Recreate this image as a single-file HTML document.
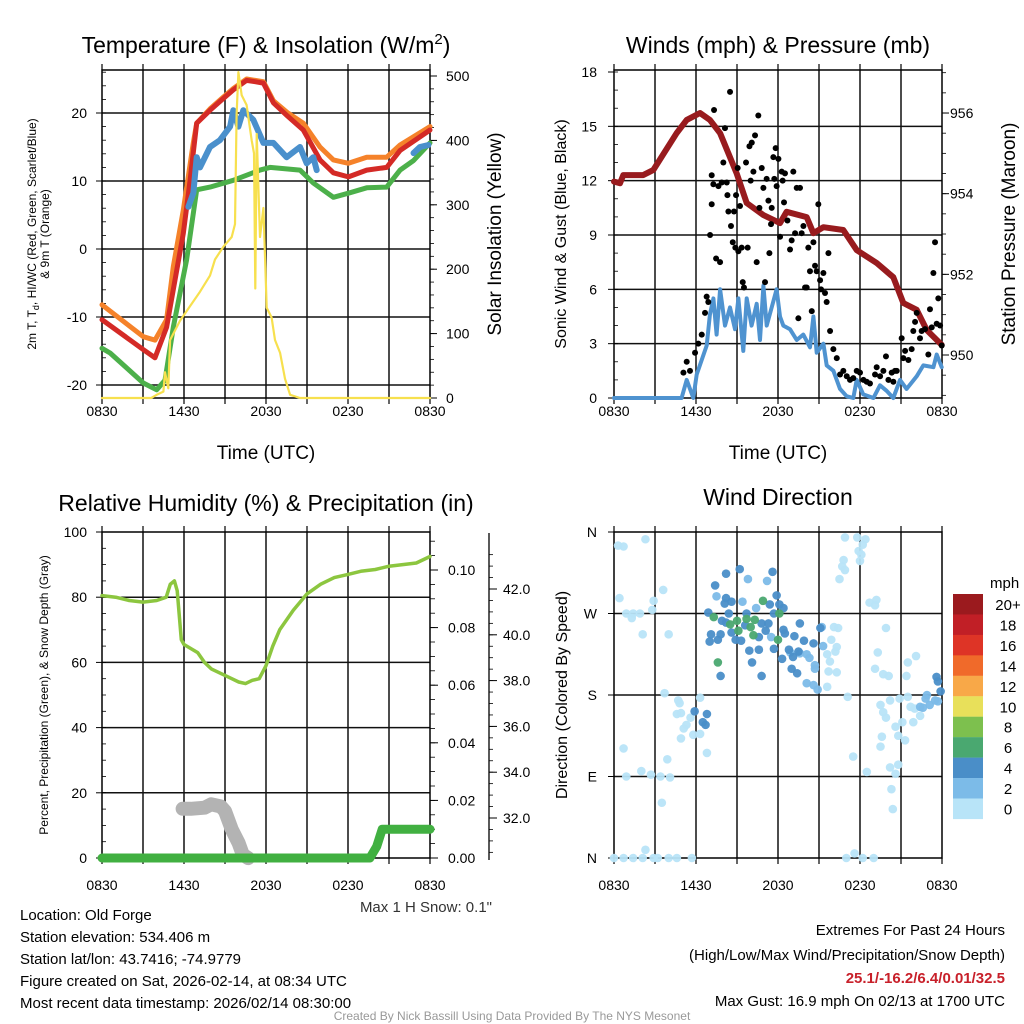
<!DOCTYPE html>
<html><head><meta charset="utf-8"><style>
html,body{margin:0;padding:0;background:#fff;}
svg{display:block;font-family:"Liberation Sans",Arial,sans-serif;}
</style></head><body>
<svg id="fig" width="1024" height="1024" viewBox="0 0 1024 1024" xmlns="http://www.w3.org/2000/svg">
<rect width="1024" height="1024" fill="#fff"/>
<g id="p1"></g>
<g id="p2"></g>
<g id="p3"></g>
<g id="p4"></g>
<g id="txt">
<text x="266" y="53" font-size="23" text-anchor="middle">Temperature (F) &amp; Insolation (W/m<tspan dy="-9" font-size="15">2</tspan><tspan dy="9">)</tspan></text>
<text x="778" y="53" font-size="23" text-anchor="middle">Winds (mph) &amp; Pressure (mb)</text>
<text x="266" y="511" font-size="23" text-anchor="middle">Relative Humidity (%) &amp; Precipitation (in)</text>
<text x="778" y="505" font-size="23" text-anchor="middle">Wind Direction</text>
<text x="266" y="459" font-size="19" text-anchor="middle">Time (UTC)</text>
<text x="778" y="459" font-size="19" text-anchor="middle">Time (UTC)</text>
<text transform="translate(36,234) rotate(-90)" font-size="12" text-anchor="middle">2m T, T<tspan dy="3" font-size="9">d</tspan><tspan dy="-3">, HI/WC (Red, Green, Scarlet/Blue)</tspan></text>
<text transform="translate(49,234) rotate(-90)" font-size="12" text-anchor="middle">&amp; 9m T (Orange)</text>
<text transform="translate(501,234) rotate(-90)" font-size="19" text-anchor="middle">Solar Insolation (Yellow)</text>
<text transform="translate(566,234) rotate(-90)" font-size="16" text-anchor="middle">Sonic Wind &amp; Gust (Blue, Black)</text>
<text transform="translate(1015,234) rotate(-90)" font-size="19" text-anchor="middle">Station Pressure (Maroon)</text>
<text transform="translate(48,695) rotate(-90)" font-size="12" text-anchor="middle">Percent, Precipitation (Green), &amp; Snow Depth (Gray)</text>
<text transform="translate(567,695) rotate(-90)" font-size="16" text-anchor="middle">Direction (Colored By Speed)</text>
<text x="492" y="912" font-size="15" fill="#333" text-anchor="end">Max 1 H Snow: 0.1"</text>
<g font-size="15">
<text x="20" y="920">Location: Old Forge</text>
<text x="20" y="942">Station elevation: 534.406 m</text>
<text x="20" y="964">Station lat/lon: 43.7416; -74.9779</text>
<text x="20" y="986">Figure created on Sat, 2026-02-14, at 08:34 UTC</text>
<text x="20" y="1008">Most recent data timestamp: 2026/02/14 08:30:00</text>
</g>
<g font-size="15" text-anchor="end">
<text x="1005" y="935">Extremes For Past 24 Hours</text>
<text x="1005" y="960">(High/Low/Max Wind/Precipitation/Snow Depth)</text>
<text x="1005" y="983" fill="#c8202a" font-weight="bold">25.1/-16.2/6.4/0.01/32.5</text>
<text x="1005" y="1006">Max Gust: 16.9 mph On 02/13 at 1700 UTC</text>
</g>
<text x="512" y="1020" font-size="12" fill="#999" text-anchor="middle">Created By Nick Bassill Using Data Provided By The NYS Mesonet</text>
</g>
</svg>
<script>
// ---------- data ----------
var timeTickLabels = ["0830","1430","2030","0230","0830"];
var tempTicks = [20,10,0,-10,-20];
var insolTicks = [500,400,300,200,100,0];
var redHours = [0,3.02,3.88,4.73,5.95,6.44,6.93,7.9,8.8,9.61,10.58,11.2,11.81,12.54,13.6,14.73,15.95,16.93,18.03,19.37,20.83,21.81,24];
var redVals = [-10.4,-14.8,-16,-11.5,2.3,10,18.5,20.4,22,23.4,24.8,24.6,24.4,21.5,19.5,17.5,13.1,11.2,10.6,11.6,12,14.5,17.5];
var orangeHours = [0,3.02,3.88,4.73,5.22,5.95,6.68,6.93,7.9,8.8,9.61,10.58,11.2,11.81,12.54,13.6,14.73,15.95,16.93,18.03,19.37,20.83,21.81,24];
var orangeVals = [-8.2,-12.9,-13.4,-10.4,-2.6,5.7,15.6,18.5,20.6,22.2,23.6,25,24.8,24.6,21.8,20,18.5,15,13.1,12.6,13.5,13.5,15.3,18];
var greenHours = [0,0.59,3.02,4.0,4.61,5.22,6.19,6.93,7.9,9.61,11.56,12.29,14.49,15.46,16.93,18.03,19.37,20.83,21.81,22.79,24];
var greenVals = [-14.6,-15.3,-19.7,-20.7,-19.3,-11.5,-1.6,8.7,9.1,10.1,11.6,12,11.6,9.7,7.6,8.2,9,9.1,11.6,13,15.6];
var blueHours = [6.32,6.68,6.93,7.17,7.9,8.63,9.37,9.61,9.98,10.34,11.07,11.81,12.54,13.51,14.49,14.98,15.46,15.71];
var blueVals = [6.2,8.2,13.5,12,15,16,18,20.4,18,20.4,19,15.6,15.6,13.5,15,12.6,13.5,11.6];
var blue2Hours = [22.79,23.27,23.88];
var blue2Vals = [14.1,15,15.3];
var insolHours = [0,3.6,4.0,4.49,4.61,4.85,4.98,5.71,6.19,7.17,7.9,8.27,8.88,9.49,9.73,9.85,9.98,10.22,10.58,10.95,11.12,11.22,11.32,11.56,11.81,12.05,12.41,12.66,13.03,13.39,13.76,14.49,24];
var insolVals = [0,0,5,10,40,15,90,120,135,165,190,215,235,250,270,440,506,470,455,400,380,170,410,250,295,140,125,90,70,30,5,0,0];

var windTicks = [0,3,6,9,12,15,18];
var presTicks = [950,952,954,956];
var presHours = [0,0.44,0.68,2.14,2.88,4.58,5.32,6.29,7.02,7.76,8.98,9.71,10.93,12.15,12.63,14.1,14.59,15.32,16.78,17.76,19.22,20.44,21.17,22.15,22.88,23.98];
var presVals = [954.3,954.26,954.46,954.46,954.59,955.5,955.83,956.0,955.83,955.5,954.5,953.77,953.47,953.27,953.55,953.42,953.02,953.17,953.1,952.6,952.28,951.93,951.29,951.12,950.62,950.25];
var windHours = [0,4.95,5.32,5.8,6.05,6.78,7.02,7.27,7.51,7.76,8.12,8.49,8.85,9.1,9.46,9.71,10.07,10.44,10.68,10.93,11.17,11.54,11.9,12.15,12.39,12.88,13.37,13.85,14.34,14.59,14.83,15.32,15.56,16.05,16.54,17.02,17.51,17.76,18.24,18.98,19.46,19.95,20.44,20.93,21.41,22.15,22.63,23.37,23.61,23.98];
var windVals = [0,0,1,0,1.3,2.9,4.6,5.5,3.5,6,4,5,3.8,5.5,2.6,5.5,4,5.2,3.2,6.2,4,5,6,4.5,4,3.8,3.2,3.5,2.8,4.5,2.5,3,1.8,1.5,0.5,0.1,0,1,0.2,0,0.7,0.4,0,1,0.5,1.2,1.8,1.7,2.4,1.7];
var gustHours = [5.08,5.32,5.56,5.93,6.17,6.42,6.66,6.78,6.9,7.03,7.15,7.15,7.27,7.32,7.47,7.64,7.76,7.88,8,8.12,8.25,8.3,8.37,8.49,8.56,8.69,8.78,8.88,8.93,9.05,9.1,9.22,9.34,9.42,9.51,9.66,9.78,9.91,10,10.08,10.2,10.32,10.44,10.56,10.64,10.81,10.93,11.05,11.17,11.3,11.37,11.49,11.54,11.66,11.73,11.83,11.9,12.03,12.15,12.27,12.34,12.44,12.51,12.69,12.88,13,13.12,13.25,13.37,13.49,13.61,13.73,13.86,13.98,14.1,14.22,14.34,14.47,14.59,14.71,14.83,14.95,15.08,15.15,15.32,15.44,15.56,15.69,15.81,16.05,16.3,16.54,16.78,17.03,17.27,17.51,17.76,18,18.25,18.49,18.73,19.1,19.22,19.47,19.71,19.9,20.08,20.32,20.44,20.56,20.69,21.05,21.17,21.3,21.54,21.78,21.9,22.03,22.15,22.39,22.51,22.76,23,23.12,23.25,23.37,23.49,23.61,23.73,23.86,23.98];
var gustVals = [1.4,2,1.5,2.5,3,3.5,4.7,5.6,5.3,9,10.7,12.3,11.8,15.9,7.7,11.7,7.5,11.9,13,14.9,11.9,11.2,10.3,16.9,9.5,8.6,10.3,8.3,11.2,12.7,8.1,10.6,8.3,6.4,6.1,13,8.3,13.9,12,14.1,12.5,14.5,7.5,15.6,10.5,12.7,11.6,6.4,12.1,10.9,8,9.6,10.5,13.3,12.1,13.8,11.7,13.2,8.9,12.5,12,10.8,12.4,9.8,8.2,8.7,12.5,9.1,11.6,4.4,11.6,9.1,9.5,6.1,6.1,8.3,7,4.8,8.6,7.3,7,10.7,6.5,6,6.9,5.8,5.3,8,3.7,2.7,2.2,1.3,1.5,1.2,1,1.1,1.5,1.4,1,0.9,0.8,1.3,1.7,1.2,1.5,2.3,1,1.4,0.9,1.5,1.5,3.3,2.2,2.6,2.1,2.7,3.7,4.2,4.7,3.3,3.7,3.8,2.4,4.9,3.9,6.9,8.6,4.1,5.5,4,2.9];

var rhTicks = [100,80,60,40,20,0];
var precipTicks = ["0.10","0.08","0.06","0.04","0.02","0.00"];
var snowTicks = ["42.0","40.0","38.0","36.0","34.0","32.0"];
var rhHours = [0,1,2,3,4,4.7,5,5.3,5.5,5.8,6,7,7.5,8,9,9.5,10,10.5,11,11.5,12,12.5,13,14,15,16,17,18,19,20,21,22,23,24];
var rhVals = [80.5,80,79,78.5,79,80,84,85,82,67,65.5,63,60,58,56,55,54,53.5,54.5,55,59,65,70,76,81,84,86,87,88,88.5,89.5,90,90.5,92.5];
var precipHours = [0,19.6,20.1,20.5,24];
var precipVals = [0,0,0.004,0.01,0.01];
var snowHours = [5.9,6.5,7.5,8,8.7,9,9.5,10,10.3,10.7];
var snowVals = [32.4,32.4,32.45,32.6,32.5,32.3,31.5,30.9,30.4,30.25];

var dirTickLabels = ["N","W","S","E","N"];
var speedLabels = ["20+","18","16","14","12","10","8","6","4","2","0"];
var speedColors = ["#9b1a1e","#c11f26","#de3426","#f06a2a","#f8a848","#e8e05a","#7dc04e","#4aa870","#4a8ec8","#7cbbe8","#b8e4f8"];
var dirHours = [0.3,0.7,2.3,0.4,3.6,2.9,2.8,0.9,1.4,1.9,1.3,2.1,4.0,3.7,4.7,4.8,6.3,4.6,4.9,5.6,5.3,5.1,6.3,5.8,4.9,6.8,3.9,0.7,2.0,0.9,2.7,3.4,4.1,3.5,2.3,0,0.7,1.4,2.1,2.9,3.2,4.0,4.6,5.7,16.9,17.8,18.4,18.2,17.9,18.1,18.0,16.8,16.7,16.9,16.5,18.7,19.2,19.1,19.9,16.1,16.4,15.9,16.3,15.6,16.2,15.8,15.7,16.3,15.6,17.1,19.3,19.1,19.7,20.1,21.5,22.1,21.4,19.5,19.7,19.9,20.2,20.9,21.5,21.7,22.0,22.4,21.9,21.1,20.6,20.8,21.3,19.6,19.5,17.5,18.5,20.2,20.8,20.6,20.3,20.4,17.0,17.6,18.2,19.0,
9.8,11.2,7.5,9.4,10.4,11.5,12.9,13.6,14.1,14.3,14.7,14.7,14.1,14.6,14.9,15.3,15.2,22.8,23.1,22.6,23.5,23.7,22.9,22.4,
8.2,9.2,11.6,7.4,11.9,8.2,8.1,8.6,11.4,12.1,12.4,11.7,6.9,8.4,9.7,7.9,8.2,9.6,10.8,11.3,11.1,7.1,7.8,8.6,7.0,7.6,8.9,9.3,10.6,12.4,12.5,13.6,13.2,13.9,14.6,15.1,9.9,10.6,11.7,12.8,13.1,13.5,12.3,13.0,10.1,13.4,10.8,7.8,5.9,6.8,6.5,6.7,23.6,23.7,23.9,
10.9,12.1,7.3,9.0,9.7,10.3,8.5,9.1,10.0,10.2,12.0,7.6];
var dirDegs = [345,344,352,287,296,284,274,270,270,270,265,247,247,182,174,171,177,159,160,155,147,143,137,136,132,116,109,121,96,90,92,90,89,61,9,0,0,0,0,0,0,0,0,0,354,354,352,346,339,335,328,329,322,318,308,282,285,279,254,255,254,241,233,225,228,217,206,205,189,178,227,209,203,201,216,223,201,169,161,155,174,176,178,167,165,157,150,150,145,135,130,134,123,112,95,100,103,93,76,54,0,5,0,0,
308,306,289,283,276,244,227,226,225,221,213,209,193,191,186,234,255,176,169,166,174,173,180,167,
314,319,316,301,290,287,281,283,280,280,276,270,271,270,270,262,260,257,259,259,251,247,247,249,239,241,241,240,244,252,248,259,245,240,237,254,229,230,231,230,222,228,220,209,216,204,201,201,162,159,150,147,200,195,184,
284,270,266,262,264,263,258,251,255,246,241,216];
var dirSpeeds = [1,1,1,1,1,1,1,1,1,1,1,1,1,1,1,1,1,1,1,1,1,1,1,1,1,1,1,1,1,1,1,1,1,1,1,1,1,1,1,1,1,1,1,1,1,1,1,1,1,1,1,1,1,1,1,1,1,1,1,1,1,1,1,1,1,1,1,1,1,1,1,1,1,1,1,1,1,1,1,1,1,1,1,1,1,1,1,1,1,1,1,1,1,1,1,1,1,1,1,1,1,1,1,1,
3,3,3,3,3,3,3,3,3,3,3,3,3,3,3,3,3,3,3,3,3,3,3,3,
5,5,5,5,5,5,5,5,5,5,5,5,5,5,5,5,5,5,5,5,5,5,5,5,5,5,5,5,5,5,5,5,5,5,5,5,5,5,5,5,5,5,5,5,5,5,5,5,5,5,5,5,5,5,5,
7,7,7,7,7,7,7,7,7,7,7,7];

// ---------- helpers ----------
var NS = "http://www.w3.org/2000/svg";
function mk(parent, tag, attrs){ var e=document.createElementNS(NS,tag); for(var k in attrs) e.setAttribute(k,attrs[k]); parent.appendChild(e); return e; }
function pathD(hs, vs, xf, yf){ var d=""; for(var i=0;i<hs.length;i++){ d+=(i?"L":"M")+xf(hs[i]).toFixed(1)+","+yf(vs[i]).toFixed(1);} return d; }
function xl(h){ return 102 + h*328/24; }
function xr(h){ return 614 + h*328/24; }
var B = "#000";

function frame(g, x0, y0, w, h, labOff, hgridYs){
  for (var i=1;i<8;i++){ var x=x0+i*w/8; var ln=mk(g,"line",{x1:x,y1:y0,x2:x,y2:y0+h,stroke:"#111","stroke-width":1.5});
    
     }
  hgridYs.forEach(function(y){ if (y < y0+4 || y > y0+h-4) return;
    var ln=mk(g,"line",{x1:x0,y1:y,x2:x0+w,y2:y,stroke:"#111","stroke-width":1.5});
    
     });
  var r=mk(g,"rect",{x:x0,y:y0,width:w,height:h,fill:"none",stroke:B,"stroke-width":1.5});
  
  
  for (var i=0;i<=8;i++){ var x=x0+i*w/8; mk(g,"line",{x1:x,y1:y0+h,x2:x,y2:y0+h+6,stroke:B,"stroke-width":1.2}); mk(g,"line",{x1:x,y1:y0,x2:x,y2:y0-6,stroke:B,"stroke-width":1.2}); }
  for (var j=0;j<timeTickLabels.length;j++){ var t=mk(g,"text",{x:x0+j*w/4,y:y0+h+labOff,"font-size":14,"text-anchor":"middle"}); t.textContent=timeTickLabels[j];
    
     }
}
function ylabel(g,x,y,txt,anchor){ var t=mk(g,"text",{x:x,y:y+5,"font-size":14,"text-anchor":anchor}); t.textContent=txt;
  
   return t; }
function line(g,d,color,w,name){ var p=mk(g,"path",{d:d,fill:"none",stroke:color,"stroke-width":w,"stroke-linejoin":"round","stroke-linecap":"round"});
  
   return p; }

// ---------- panel 1 ----------
(function(){
  var g=document.getElementById("p1");
  function yT(v){ return 249 - v*6.8; }
  function yI(v){ return 398 - v*0.644; }
  frame(g,102,70,328,328,18,tempTicks.map(yT));
  tempTicks.forEach(function(v){ ylabel(g,87,yT(v),String(v),"end"); mk(g,"line",{x1:96,y1:yT(v),x2:102,y2:yT(v),stroke:B}); });
  for (var v=-22; v<=26; v+=2) mk(g,"line",{x1:102,y1:yT(v),x2:106,y2:yT(v),stroke:B,"stroke-width":0.8});
  insolTicks.forEach(function(v){ ylabel(g,446,yI(v),String(v),"start"); mk(g,"line",{x1:430,y1:yI(v),x2:437,y2:yI(v),stroke:B}); });
  for (var v=0; v<=500; v+=20) mk(g,"line",{x1:430,y1:yI(v),x2:434,y2:yI(v),stroke:B,"stroke-width":0.8});
  line(g,pathD(orangeHours,orangeVals,xl,yT),"#f5822a",5,"temp-9m-orange-line");
  line(g,pathD(greenHours,greenVals,xl,yT),"#4cb04a",5,"dewpoint-green-line");
  line(g,pathD(redHours,redVals,xl,yT),"#d42a26",5,"temp-2m-red-line");
  line(g,pathD(blueHours,blueVals,xl,yT),"#4a90cc",6,"windchill-blue-line");
  line(g,pathD(blue2Hours,blue2Vals,xl,yT),"#4a90cc",6,"windchill-blue-line-2");
  line(g,pathD(insolHours,insolVals,xl,yI),"#f7e04e",2.2,"insolation-yellow-line");
})();

// ---------- panel 2 ----------
(function(){
  var g=document.getElementById("p2");
  function yW(v){ return 398 - v*326/18; }
  function yP(v){ return 355 - (v-950)*40.33; }
  frame(g,614,70,328,328,18,windTicks.map(yW));
  windTicks.forEach(function(v){ ylabel(g,597,yW(v),String(v),"end"); mk(g,"line",{x1:608,y1:yW(v),x2:614,y2:yW(v),stroke:B}); });
  for (var v=0; v<=18; v+=1) mk(g,"line",{x1:614,y1:yW(v),x2:618,y2:yW(v),stroke:B,"stroke-width":0.8});
  presTicks.forEach(function(v){ ylabel(g,950,yP(v),String(v),"start"); mk(g,"line",{x1:942,y1:yP(v),x2:949,y2:yP(v),stroke:B}); });
  for (var v=949; v<=957; v+=0.5) { var yy=yP(v); if(yy>70&&yy<398) mk(g,"line",{x1:942,y1:yy,x2:946,y2:yy,stroke:B,"stroke-width":0.8}); }
  line(g,pathD(windHours,windVals,xr,yW),"#4f93d0",4,"wind-speed-blue-line");
  line(g,pathD(presHours,presVals,xr,yP),"#981b1e",6,"pressure-maroon-line");
  for (var i=0;i<gustHours.length;i++){
    var c=mk(g,"circle",{cx:xr(gustHours[i]),cy:yW(gustVals[i]),r:3,fill:"#000"});
    
    
  }
})();

// ---------- panel 3 ----------
(function(){
  var g=document.getElementById("p3");
  function yR(v){ return 858 - v*3.26; }
  function yPr(v){ return 858 - v*2880; }
  function yS(v){ return 818 - (v-32)*22.9; }
  frame(g,102,532,328,326,32,rhTicks.map(yR));
  rhTicks.forEach(function(v){ ylabel(g,87,yR(v),String(v),"end"); mk(g,"line",{x1:96,y1:yR(v),x2:102,y2:yR(v),stroke:B}); });
  for (var v=0; v<=100; v+=5) mk(g,"line",{x1:102,y1:yR(v),x2:106,y2:yR(v),stroke:B,"stroke-width":0.8});
  precipTicks.forEach(function(s){ var v=parseFloat(s); ylabel(g,448,yPr(v),s,"start"); mk(g,"line",{x1:430,y1:yPr(v),x2:438,y2:yPr(v),stroke:B}); });
  for (var v=0; v<=0.112; v+=0.005) mk(g,"line",{x1:430,y1:yPr(v),x2:435,y2:yPr(v),stroke:B,"stroke-width":0.8});
  var ax=mk(g,"line",{x1:489,y1:533,x2:489,y2:860,stroke:B,"stroke-width":1.3});
  
  
  snowTicks.forEach(function(s){ var v=parseFloat(s); ylabel(g,503,yS(v),s,"start"); mk(g,"line",{x1:489,y1:yS(v),x2:497,y2:yS(v),stroke:B}); });
  for (var v=30.5; v<=43.8; v+=0.5) mk(g,"line",{x1:489,y1:yS(v),x2:493,y2:yS(v),stroke:B,"stroke-width":0.8});
  line(g,pathD(snowHours,snowVals,xl,yS),"#b3b3b3",14,"snow-depth-gray-line");
  line(g,pathD(rhHours,rhVals,xl,yR),"#8cc63f",3.5,"humidity-green-line");
  line(g,pathD(precipHours,precipVals,xl,yPr),"#41b041",9,"precip-green-line");
})();

// ---------- panel 4 ----------
(function(){
  var g=document.getElementById("p4");
  function yD(v){ return 858 - v*326/360; }
  var degs=[360,270,180,90,0];
  frame(g,614,532,328,326,32,degs.map(yD));
  degs.forEach(function(v,i){ ylabel(g,597,yD(v),dirTickLabels[i],"end"); mk(g,"line",{x1:608,y1:yD(v),x2:614,y2:yD(v),stroke:B}); });
  function col(s){ var idx = 10 - Math.min(10, Math.floor(s/2)); return speedColors[idx]; }
  for (var i=0;i<dirHours.length;i++){
    var c=mk(g,"circle",{cx:xr(dirHours[i]),cy:yD(dirDegs[i]),r:4.3,fill:col(dirSpeeds[i]),"fill-opacity":0.95});
    
    
  }
  var t=mk(g,"text",{x:990,y:588,"font-size":15,"text-anchor":"start"}); t.textContent="mph";
  
  
  for (var k=0;k<speedLabels.length;k++){
    var y=594+k*20.45;
    var r=mk(g,"rect",{x:953,y:y,width:30,height:20.6,fill:speedColors[k]});
    
    
    var lb=mk(g,"text",{x:1008,y:y+16,"font-size":15,"text-anchor":"middle"}); lb.textContent=speedLabels[k];
    
    
  }
})();
</script>
</body></html>
